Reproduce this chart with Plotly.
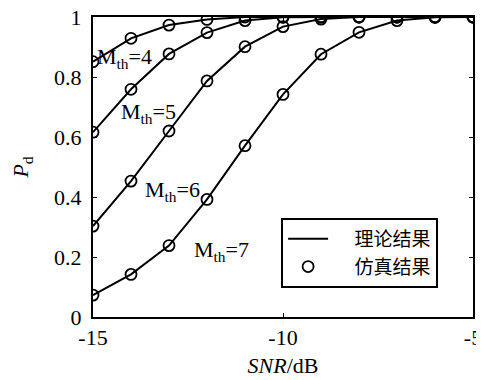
import plotly.graph_objects as go

snr = [-15, -14, -13, -12, -11, -10, -9, -8, -7, -6, -5]
pd_m4 = [0.851, 0.929, 0.973, 0.992, 1.0, 1.0, 1.0, 1.0, 1.0, 1.0, 1.0]
pd_m5 = [0.616, 0.759, 0.877, 0.948, 0.988, 0.999, 1.0, 1.0, 1.0, 1.0, 1.0]
pd_m6 = [0.303, 0.453, 0.620, 0.787, 0.901, 0.968, 0.993, 1.0, 1.0, 1.0, 1.0]
pd_m7 = [0.073, 0.142, 0.238, 0.392, 0.571, 0.742, 0.876, 0.949, 0.988, 0.999, 1.0]
series = [pd_m4, pd_m5, pd_m6, pd_m7]
labels = ["M<sub>th</sub>=4", "M<sub>th</sub>=5", "M<sub>th</sub>=6", "M<sub>th</sub>=7"]
label_x = [-14.18, -13.55, -12.9, -11.62]
label_y = [0.865, 0.68, 0.42, 0.22]

serif = "Liberation Serif, Times New Roman, serif"
cjk = "Noto Sans CJK SC"
nb = "\u00a0"

fig = go.Figure()
for i, ys in enumerate(series):
    fig.add_trace(go.Scatter(x=snr, y=ys, mode="lines",
                             line=dict(color="black", width=2),
                             name=nb * 5 + "理论结果", showlegend=(i == 0)))
for i, ys in enumerate(series):
    fig.add_trace(go.Scatter(x=snr, y=ys, mode="markers",
                             marker=dict(symbol="circle-open", size=11, color="black",
                                         line=dict(width=1.8, color="black")),
                             name=nb * 5 + "仿真结果", showlegend=(i == 0)))

for lx, ly, t in zip(label_x, label_y, labels):
    fig.add_annotation(x=lx, y=ly, text=t, showarrow=False, xanchor="center", yanchor="middle",
                       font=dict(family=serif, size=22, color="black"))

fig.update_layout(
    width=476, height=372,
    margin=dict(l=85, r=11, t=9, b=63, autoexpand=False),
    paper_bgcolor="white", plot_bgcolor="white",
    showlegend=True,
    legend=dict(x=0.495, y=0.33, xanchor="left", yanchor="top",
                bgcolor="white", bordercolor="black", borderwidth=2,
                font=dict(family=cjk, size=19, color="black"),
                tracegroupgap=0, itemwidth=40),
    xaxis=dict(range=[-15, -5], tickvals=[-15, -10, -5], ticktext=["-15", "-10", "-5"],
               ticks="inside", ticklen=4, tickcolor="black", showline=True, linecolor="black",
               linewidth=2, mirror="allticks", showgrid=False, zeroline=False, automargin=False,
               ticklabeloverflow="allow",
               tickfont=dict(family=serif, size=22, color="black"),
               title=dict(text="<i>SNR</i>/dB", font=dict(family=serif, size=22, color="black"),
                          standoff=8)),
    yaxis=dict(range=[0, 1], tickvals=[0, 0.2, 0.4, 0.6, 0.8, 1],
               ticktext=["0", "0.2", "0.4", "0.6", "0.8", "1"],
               ticks="inside", ticklen=4, tickcolor="black", showline=True, linecolor="black",
               linewidth=2, mirror="allticks", showgrid=False, zeroline=False, automargin=False,
               ticklabeloverflow="allow", ticklabelstandoff=5,
               tickfont=dict(family=serif, size=22, color="black"),
               title=dict(text="<i>P</i><sub>d</sub>", font=dict(family=serif, size=22, color="black"),
                          standoff=21)),
)

fig.write_html("out.html")
